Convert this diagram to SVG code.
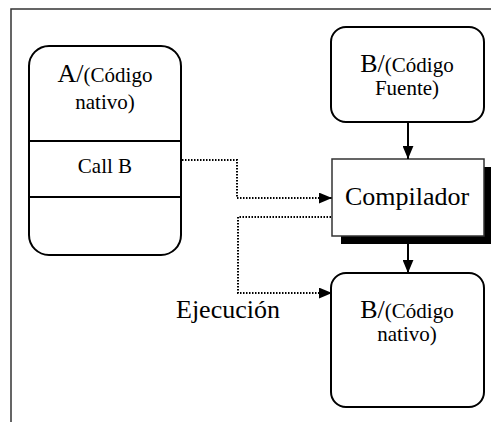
<svg xmlns="http://www.w3.org/2000/svg" width="491" height="422" viewBox="0 0 491 422" font-family="'Liberation Serif', 'Times New Roman', serif">
  <style>
    .frame { fill: none; stroke: #333; stroke-width: 1.5; }
    .box { fill: #fff; stroke: #000; stroke-width: 2; }
    .rect { fill: #fff; stroke: #333; stroke-width: 1.5; }
    .div { stroke: #000; stroke-width: 2; }
    text, tspan { font-family: "Liberation Serif", "Times New Roman", serif; fill: #000; }
    text { text-anchor: middle; }
    .big { font-size: 26px; }
    .small { font-size: 21px; }
    .solid { fill: none; stroke: #000; stroke-width: 2; }
    .dot { fill: none; stroke: #000; stroke-width: 2; stroke-dasharray: 1.5 1.5; }
  </style>
  <defs>
    <marker id="arrow" viewBox="0 0 12 10" refX="12" refY="5" markerWidth="13" markerHeight="11" markerUnits="userSpaceOnUse" orient="auto">
      <path d="M0,0 L12,5 L0,10 Z" fill="#000"/>
    </marker>
  </defs>

  <!-- page frame -->
  <path class="frame" d="M11,422 V9 H491"/>

  <g id="node-a">
    <rect class="box" x="29" y="46" width="152" height="209" rx="20" ry="20"/>
    <line class="div" x1="29" y1="141" x2="181" y2="141"/>
    <line class="div" x1="29" y1="197" x2="181" y2="197"/>
    <text x="105" y="82"><tspan class="big">A/</tspan><tspan class="small">(Código</tspan></text>
    <text class="small" x="105" y="109">nativo)</text>
    <text class="small" x="105" y="173">Call B</text>
  </g>

  <g id="node-b-fuente">
    <rect class="box" x="331" y="27" width="153" height="95" rx="15" ry="15"/>
    <text x="407" y="72"><tspan class="big">B/</tspan><tspan class="small">(Código</tspan></text>
    <text class="small" x="407" y="95">Fuente)</text>
  </g>

  <g id="node-compilador">
    <rect x="341" y="167" width="152" height="77" fill="#000"/>
    <rect class="rect" x="332" y="159" width="152" height="77"/>
    <text class="big" x="407" y="205">Compilador</text>
  </g>

  <g id="node-b-nativo">
    <rect class="box" x="331" y="273" width="153" height="134" rx="15" ry="15"/>
    <text x="407" y="318"><tspan class="big">B/</tspan><tspan class="small">(Código</tspan></text>
    <text class="small" x="407" y="341">nativo)</text>
  </g>

  <g id="connectors">
    <line class="solid" x1="408" y1="122" x2="408" y2="159" marker-end="url(#arrow)"/>
    <line class="solid" x1="408" y1="244" x2="408" y2="273" marker-end="url(#arrow)"/>
    <path class="dot" d="M182,160 H237 V198 H332" marker-end="url(#arrow)"/>
    <path class="dot" d="M331,217 H238 V293 H332" marker-end="url(#arrow)"/>
    <text class="big" x="228" y="318">Ejecución</text>
  </g>
</svg>
